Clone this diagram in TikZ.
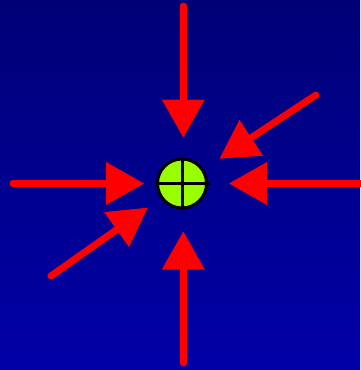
\documentclass[tikz,border=0pt]{standalone}
\usetikzlibrary{arrows.meta,calc,positioning}

\definecolor{bgtop}{RGB}{0,0,118}
\definecolor{bgbottom}{RGB}{0,0,168}
\definecolor{aimgreen}{RGB}{153,255,0}
\tikzset{
  push/.style={draw=red,line width=7pt,line cap=round,
    -{Triangle[length=38pt,width=43pt,line width=0pt,sharp]}},
}

\begin{document}
\begin{tikzpicture}[x=1pt,y=-1pt]
  \fill[top color=bgtop,bottom color=bgbottom] (0,0) rectangle (360,370);
  \useasboundingbox (0,0) rectangle (360,370);

  \node[circle,draw=black,line width=3pt,fill=aimgreen,minimum size=49pt,inner sep=0pt] (target) at (182,183.5) {};
  \draw[line width=3pt] (target.north) -- (target.south);
  \draw[line width=3pt] (target.west) -- ($(target.east)+(2,0)$);

  \coordinate (fromtop) at (183.3,6);
  \coordinate (frombottom) at (183.3,363);
  \coordinate (fromleft) at (13,183.5);
  \coordinate (fromright) at (370,183.5);
  \coordinate (fromupright) at (316,95);
  \coordinate (fromlowleft) at (51,276);

  \draw[push,shorten >=46pt] (fromtop) -- (fromtop |- target);
  \draw[push,shorten >=48pt] (frombottom) -- (frombottom |- target);
  \draw[push,shorten >=12pt] (fromleft) -- (target);
  \draw[push,shorten >=21pt] (fromright) -- (target);
  \draw[push,shorten >=19pt] (fromupright) -- (target);
  \draw[push,shorten >=16pt] (fromlowleft) -- (target);
\end{tikzpicture}
\end{document}
